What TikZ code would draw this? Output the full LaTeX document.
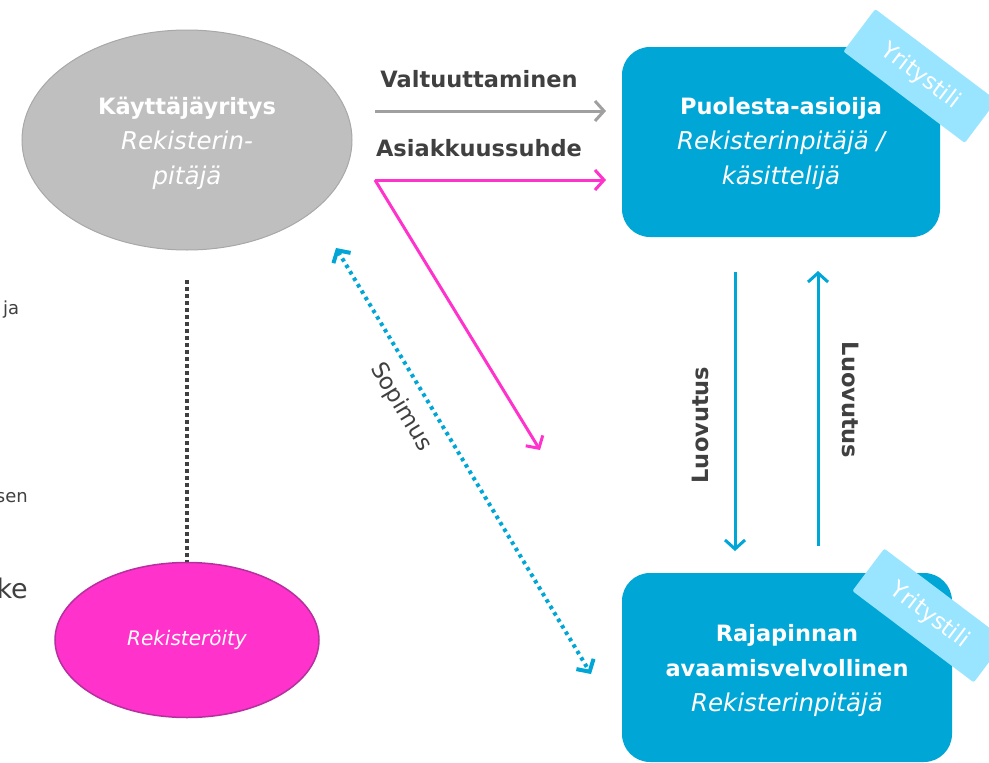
\documentclass[tikz,border=0pt]{standalone}
\usepackage{fontspec}
\setmainfont{DejaVu Sans}
\usetikzlibrary{arrows.meta,shapes.geometric}
\definecolor{boxblue}{HTML}{00A6D6}
\definecolor{bannerblue}{HTML}{99E5FF}
\definecolor{magentafill}{HTML}{FF33CC}
\definecolor{magentaline}{HTML}{B5309E}
\definecolor{grayfill}{HTML}{BFBFBF}
\definecolor{grayline}{HTML}{A8A8A8}
\definecolor{darktext}{HTML}{404040}
\definecolor{arrowgray}{HTML}{A0A0A0}
\definecolor{arrowmag}{HTML}{FF33CC}
\newcommand{\itl}[1]{{\itshape\fontsize{24.5}{35}\selectfont #1}}
\tikzset{
  bigtext/.style={font=\fontsize{22.5}{35}\selectfont, text=white, align=center},
  bluebox/.style={draw=none, fill=boxblue, rounded corners=28pt, inner sep=0pt},
  banner/.style={fill=bannerblue, minimum width=152pt, minimum height=53pt, inner sep=0pt,
     rounded corners=2pt, text=white, font=\fontsize{23}{24}\selectfont, rotate=-37},
  lbl/.style={text=darktext, font=\bfseries\fontsize{22.5}{26}\selectfont},
  lblr/.style={text=darktext, font=\fontsize{23}{26}\selectfont},
  tip/.style={-{Straight Barb[length=9pt,width=20pt]}},
  frag/.style={text=darktext, font=\fontsize{18}{20}\selectfont, inner sep=0pt}
}
\begin{document}
\begin{tikzpicture}[x=1pt,y=-1pt]
\useasboundingbox (0,0) rectangle (989,763);
\clip (0,0) rectangle (989,763);

% left edge fragments
\node[frag, anchor=west] (fja) at (3,310) {ja};
\node[frag, anchor=east] (fsen) at (28,498) {sen};
\node[frag, anchor=east, font=\fontsize{27}{28}\selectfont] (fke) at (28,588) {ke};

% gray ellipse
\node[ellipse, draw=grayline, line width=1pt, fill=grayfill, minimum width=330pt, minimum height=220pt, inner sep=0pt] (kay) at (187,140) {};
\node[bigtext] (kayt) at (187,143) {\textbf{Käyttäjäyritys}\\ \itl{Rekisterin-}\\ \itl{pitäjä}};

% magenta ellipse
\node[ellipse, draw=magentaline, line width=1.5pt, fill=magentafill, minimum width=264pt, minimum height=155pt, inner sep=0pt,
  text=white, font=\itshape\fontsize{20}{22}\selectfont] (rek) at (187,640) {Rekisteröity};

% dotted vertical connector
\coordinate (vtop) at (187,280);
\coordinate (vbot) at (187,562);
\draw[darktext, line width=4pt, dash pattern=on 4pt off 3pt] (vtop) -- (vbot);

% blue boxes
\node[bluebox, minimum width=318pt, minimum height=190pt] (pa) at (781,142) {};
\node[bigtext] (pat) at (781,143) {\textbf{Puolesta-asioija}\\ \itl{Rekisterinpitäjä /}\\ \itl{käsittelijä}};
\node[banner] (b1) at (920,76) {Yritystili};

\node[bluebox, minimum width=330pt, minimum height=189pt] (ra) at (787,667.5) {};
\node[bigtext] (rat) at (787,670) {\textbf{Rajapinnan}\\ \textbf{avaamisvelvollinen}\\ \itl{Rekisterinpitäjä}};
\node[banner] (b2) at (929,615.5) {Yritystili};

% gray arrow
\coordinate (g1) at (375,111);
\coordinate (g2) at (606,111);
\draw[arrowgray, line width=3pt, tip] (g1) -- (g2);
\node[lbl] (valt) at (479,79) {Valtuuttaminen};

% magenta arrows
\coordinate (m0) at (375,180);
\coordinate (m1) at (606,180);
\coordinate (m2) at (540,450);
\draw[arrowmag, line width=3pt, tip] (m0) -- (m1);
\draw[arrowmag, line width=3pt, tip] (m0) -- (m2);
\node[lbl] (asi) at (479,148) {Asiakkuussuhde};

% blue dotted double arrow
\coordinate (s1) at (336,248);
\coordinate (s2) at (591,674);
\draw[boxblue, line width=4pt, dash pattern=on 3.5pt off 4pt, {Straight Barb[length=9pt,width=20pt]}-{Straight Barb[length=9pt,width=20pt]}] (s1) -- (s2);
\node[lblr, rotate=-59] (sop) at (401,407) {Sopimus};

% Luovutus arrows
\coordinate (l1a) at (735,272);
\coordinate (l1b) at (735,551);
\draw[boxblue, line width=3pt, tip] (l1a) -- (l1b);
\node[lbl, rotate=90] (luo1) at (700,425) {Luovutus};

\coordinate (l2a) at (818,546);
\coordinate (l2b) at (818,271);
\draw[boxblue, line width=3pt, tip] (l2a) -- (l2b);
\node[lbl, rotate=-90] (luo2) at (851,400) {Luovutus};
\end{tikzpicture}
\end{document}
